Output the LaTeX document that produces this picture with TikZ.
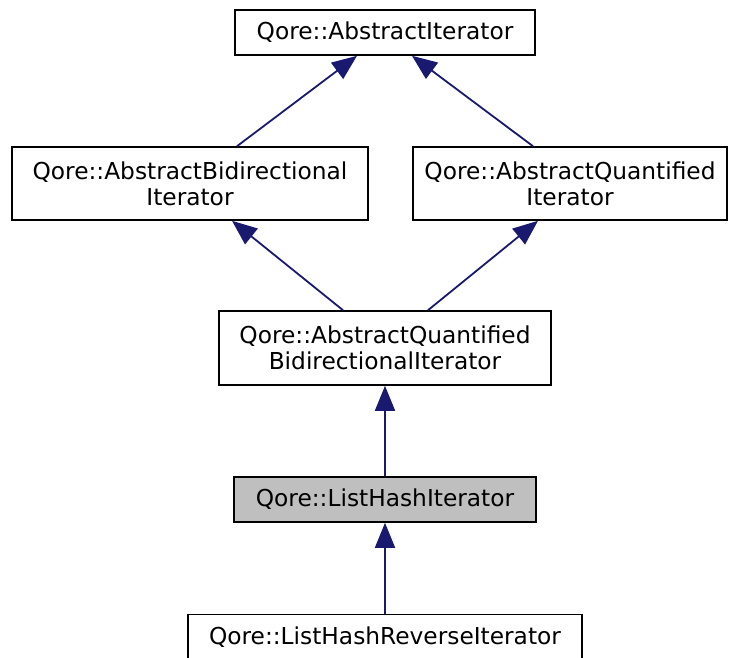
\documentclass[tikz,border=0pt]{standalone}
\usepackage{fontspec}
\setmainfont{DejaVu Sans}
\usepackage{tikz}
\usetikzlibrary{calc}
\usetikzlibrary{arrows.meta}

\definecolor{edgeblue}{HTML}{191970}
\definecolor{selgray}{HTML}{BFBFBF}

\tikzset{
  cls/.style={draw=black, line width=1.6pt, fill=white, inner sep=0pt, align=center,
    font=\fontsize{23.3}{26}\selectfont},
  inh/.style={edgeblue, line width=1.8pt, -{Triangle[length=25pt,width=20pt]}}
}

\begin{document}
\begin{tikzpicture}[x=1pt,y=-1pt]
        \useasboundingbox (0,0) rectangle (735,657);
        \node[cls, minimum width=300pt, minimum height=45pt] (iter) at (385,32.5) {Qore::AbstractIterator};
        \node[cls, minimum width=356pt, minimum height=73pt] (bidir) at (190,183.5) {Qore::AbstractBidirectional\\Iterator};
        \node[cls, minimum width=314pt, minimum height=73pt] (quant) at (570,183.5) {Qore::AbstractQuantified\\Iterator};
        \node[cls, minimum width=332pt, minimum height=74pt] (qbi) at (385,348) {Qore::AbstractQuantified\\BidirectionalIterator};
        \node[cls, fill=selgray, minimum width=302pt, minimum height=45pt] (lhi) at (385,499.5) {Qore::ListHashIterator};
        \node[cls, minimum width=394pt, minimum height=45pt] (rev) at (385,637) {Qore::ListHashReverseIterator};
        % inheritance arrows, child to parent
        \draw[inh] ($(bidir.north)+(47,0)$) -- ($(iter.south)+(-28,0)$);
        \draw[inh] ($(quant.north)+(-37,0)$) -- ($(iter.south)+(27,0)$);
        \draw[inh] ($(qbi.north)+(-42,0)$) -- ($(bidir.south)+(42,0)$);
        \draw[inh] ($(qbi.north)+(43,0)$) -- ($(quant.south)+(-32,0)$);
        \draw[inh] (lhi.north) -- (qbi.south);
        \draw[inh] (rev.north) -- (lhi.south);
    \end{tikzpicture}
\end{document}
